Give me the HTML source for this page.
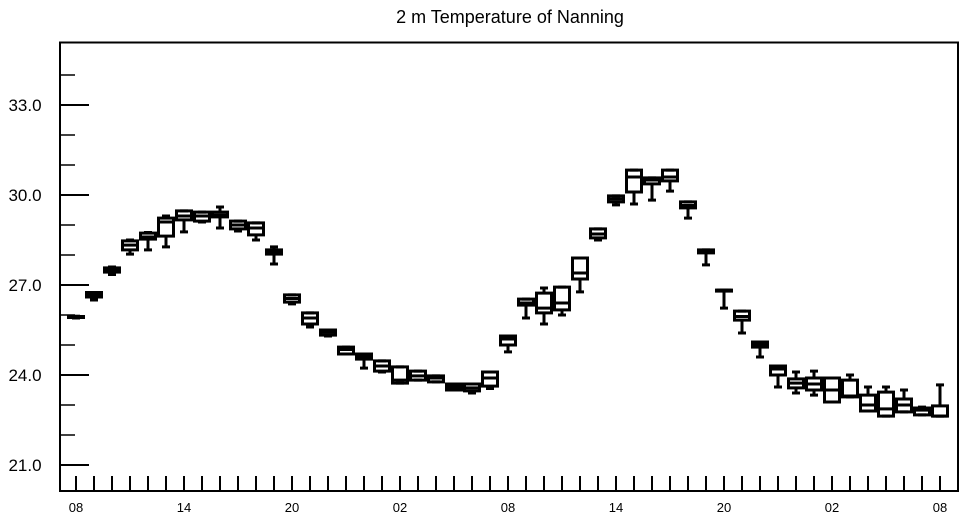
<!DOCTYPE html>
<html><head><meta charset="utf-8"><style>
html,body{margin:0;padding:0;background:#fff;}
svg{display:block;font-family:"Liberation Sans",Arial,sans-serif;}
</style></head><body>
<svg id="chart" width="964" height="520" viewBox="0 0 964 520">
<text x="510" y="23" text-anchor="middle" font-size="18">2 m Temperature of Nanning</text>
<rect x="60" y="42.5" width="898" height="448.5" fill="none" stroke="#000" stroke-width="2"/>
<g id="yaxis"></g>
<g id="xaxis"></g>
<g id="boxes"></g>
</svg>
<script>
const hourLabels = ["08","14","20","02","08","14","20","02","08"];
const yTickLabels = ["21.0","24.0","27.0","30.0","33.0"];
const mins   = [25.9,26.5,27.35,28.03,28.17,28.27,28.77,29.1,28.9,28.8,28.5,27.7,26.37,25.6,25.3,24.7,24.23,24.1,23.73,23.83,23.77,23.5,23.4,23.55,24.77,25.9,25.7,26.0,26.77,28.5,29.67,29.7,29.83,30.13,29.23,27.67,26.23,25.4,24.6,23.6,23.4,23.33,23.1,23.27,22.8,22.63,22.77,22.67,22.63];
const q1s    = [25.92,26.6,27.43,28.17,28.53,28.63,29.17,29.13,29.27,28.87,28.67,28.03,26.43,25.7,25.33,24.7,24.53,24.13,23.73,23.83,23.77,23.5,23.47,23.63,25.0,26.33,26.07,26.17,27.2,28.57,29.77,30.1,30.37,30.47,29.57,28.07,26.83,25.83,24.93,24.0,23.57,23.5,23.1,23.27,22.8,22.63,22.77,22.67,22.63];
const medians= [25.93,26.7,27.5,28.33,28.6,29.1,29.3,29.3,29.33,29.0,28.9,28.1,26.55,25.9,25.42,24.85,24.6,24.3,23.83,23.97,23.9,23.6,23.57,23.9,25.2,26.4,26.23,26.4,27.4,28.7,29.87,30.6,30.5,30.6,29.65,28.1,26.83,25.95,25.0,24.2,23.73,23.7,23.5,23.3,23.0,22.87,23.0,22.83,22.63];
const q3s    = [25.95,26.75,27.57,28.47,28.73,29.23,29.47,29.43,29.43,29.13,29.07,28.17,26.67,26.07,25.5,24.93,24.7,24.47,24.27,24.13,23.97,23.7,23.7,24.1,25.3,26.53,26.73,26.93,27.9,28.87,29.97,30.83,30.57,30.83,29.77,28.17,26.83,26.13,25.1,24.3,23.87,23.9,23.9,23.83,23.33,23.43,23.2,22.9,22.97];
const maxs   = [25.96,26.75,27.6,28.5,28.75,29.3,29.47,29.43,29.6,29.13,29.07,28.27,26.67,26.07,25.5,24.93,24.7,24.47,24.27,24.13,23.97,23.7,23.7,24.1,25.3,26.53,26.9,26.93,27.9,28.87,29.97,30.83,30.57,30.83,29.77,28.17,26.83,26.13,25.1,24.3,24.1,24.13,23.9,24.0,23.6,23.6,23.5,22.93,23.67];

const NS="http://www.w3.org/2000/svg";
const yScale = v => 105 + (33 - v) * 30;
const xScale = i => 76 + i * 18;
function mk(tag, attrs, parent){const e=document.createElementNS(NS,tag);for(const k in attrs)e.setAttribute(k,attrs[k]);parent.appendChild(e);return e;}

const yg=document.getElementById('yaxis');
for(let v=21; v<=34; v++){
  const major=(v%3===0);
  const t=mk('line',{x1:60,x2:major?89:75,y1:yScale(v),y2:yScale(v),stroke:'#000','stroke-width':major?2:1.5},yg);
  
  
}
yTickLabels.forEach(lab=>{
  const t=mk('text',{x:25,y:yScale(parseFloat(lab))+6,'text-anchor':'middle','font-size':17},yg);
  t.textContent=lab;
  
  
});

const xg=document.getElementById('xaxis');
for(let i=0;i<mins.length;i++){
  const t=mk('line',{x1:xScale(i),x2:xScale(i),y1:476,y2:491,stroke:'#000','stroke-width':2},xg);
  
  
}
hourLabels.forEach((lab,k)=>{
  const t=mk('text',{x:xScale(k*6),y:512,'text-anchor':'middle','font-size':13},xg);
  t.textContent=lab;
  
  
});

const bg=document.getElementById('boxes');
for(let i=0;i<mins.length;i++){
  const x=xScale(i), g=mk('g',{},bg);
  
  
  const st={stroke:'#000','stroke-width':3,fill:'none'};
  mk('line',Object.assign({x1:x,x2:x,y1:yScale(maxs[i]),y2:yScale(q3s[i])},st),g);
  mk('line',Object.assign({x1:x,x2:x,y1:yScale(q1s[i]),y2:yScale(mins[i])},st),g);
  mk('line',Object.assign({x1:x-4,x2:x+4,y1:yScale(maxs[i]),y2:yScale(maxs[i])},st),g);
  mk('line',Object.assign({x1:x-4,x2:x+4,y1:yScale(mins[i]),y2:yScale(mins[i])},st),g);
  const top=yScale(q3s[i]), h=Math.max(yScale(q1s[i])-top,1);
  mk('rect',Object.assign({x:x-7.5,y:top,width:15,height:h},st),g);
  mk('line',Object.assign({x1:x-7.5,x2:x+7.5,y1:yScale(medians[i]),y2:yScale(medians[i])},st),g);
}
</script>
</body></html>
